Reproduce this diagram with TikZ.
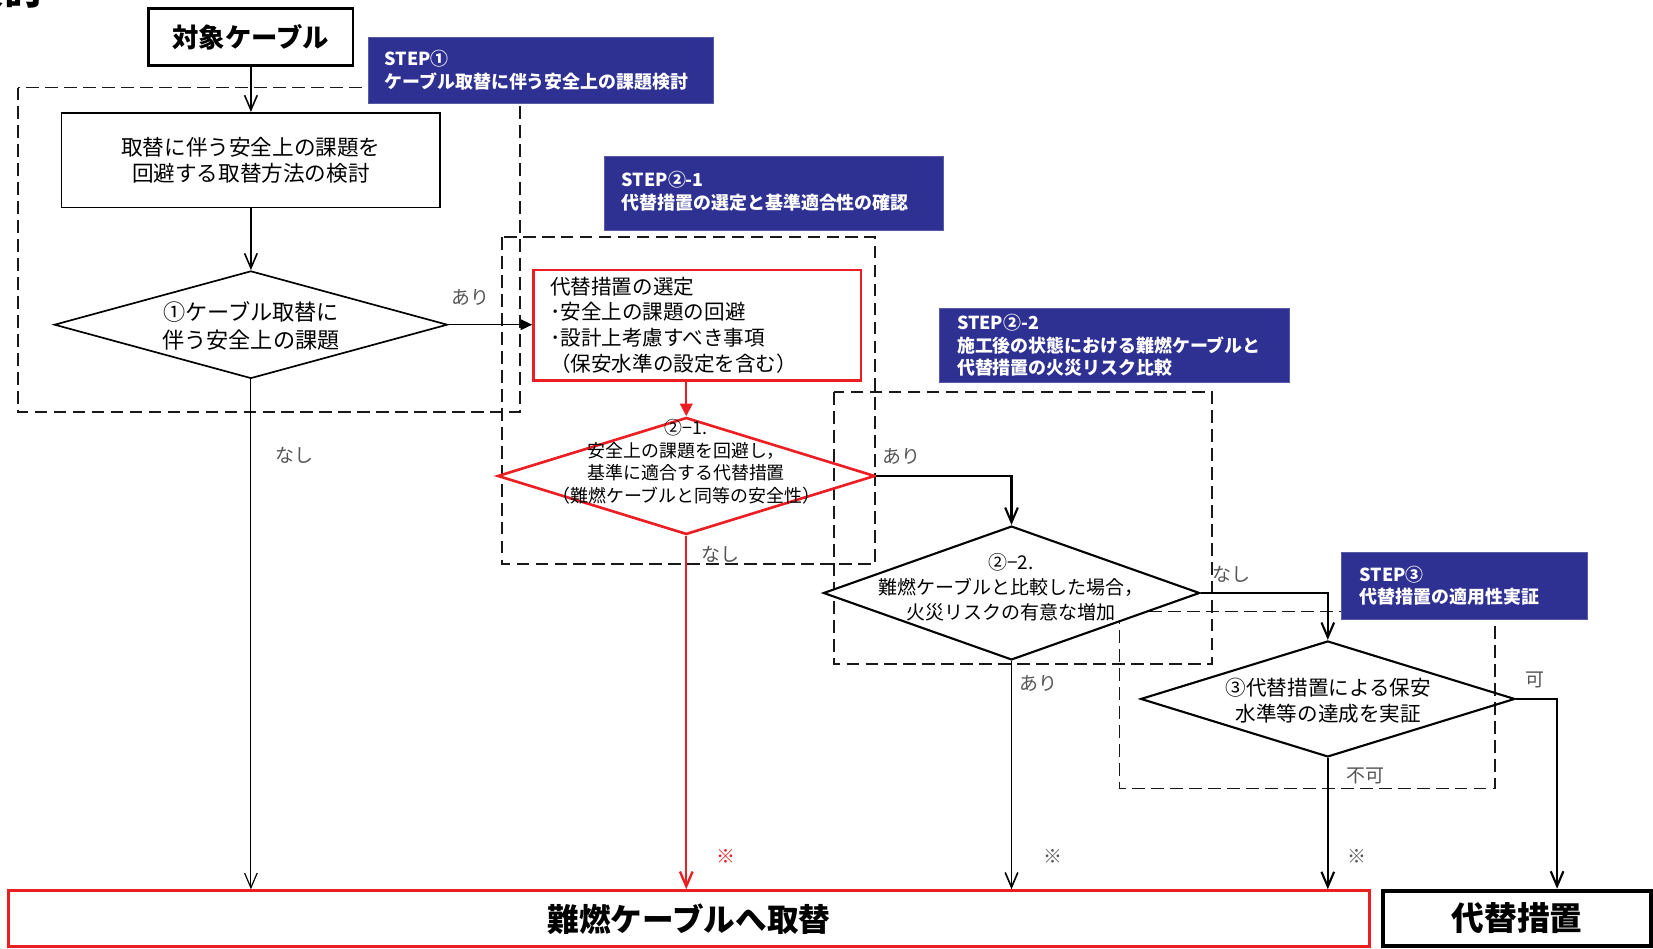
\documentclass[tikz,border=0pt]{standalone}
\usepackage{fontspec}
\setmainfont{Noto Sans CJK JP}
\usetikzlibrary{arrows.meta,shapes.geometric,calc}
\definecolor{stepblue}{RGB}{46,49,146}
\definecolor{myred}{RGB}{235,30,35}
\definecolor{lblgray}{RGB}{85,85,85}
\newcommand{\fsz}[2]{\fontsize{#1}{#2}\selectfont}
\begin{document}
\begin{tikzpicture}[x=1pt,y=-1pt,
  dbox/.style={draw=black!90, line width=1.7pt, dash pattern=on 12pt off 6pt},
  stepbox/.style={fill=stepblue, draw=stepblue!80, line width=0.6pt, inner sep=0pt},
  steptext/.style={text=white, font=\bfseries\fsz{17}{21.5}, align=left, inner sep=0pt, anchor=west},
  plainbox/.style={draw=black, line width=1.5pt, inner sep=0pt, align=center},
  dia/.style={diamond, inner sep=0pt, draw=black, line width=1.6pt},
  diatext/.style={inner sep=0pt, align=center},
  lbl/.style={text=lblgray, font=\fsz{18}{20}, inner sep=0pt},
  note/.style={font=\fsz{18}{19}, inner sep=0pt},
  barb/.style={-{Straight Barb[length=14pt,width=12pt]}},
  tri/.style={-{Triangle[length=11pt,width=10pt]}}
]
\useasboundingbox (0,0) rectangle (1568,900);

% cut-off heading
\node[font=\bfseries\fsz{38}{38}, anchor=base east, inner sep=0pt] (hdr) at (42,4) {検討};

% dashed group frames
\draw[dbox] (17,83) rectangle (493,391);
\draw[dbox] (476,225) rectangle (830,535);
\draw[dbox] (791,372) rectangle (1150,630);
\draw[dbox] (1062,580) rectangle (1418,748);

% STEP labels
\node[stepbox, minimum width=328pt, minimum height=63pt] (s1) at (513,66.5) {};
\node[steptext] (s1t) at ([xshift=16pt]s1.west) {STEP①\\ケーブル取替に伴う安全上の課題検討};
\node[stepbox, minimum width=322pt, minimum height=70pt] (s2) at (734,183) {};
\node[steptext] (s2t) at ([xshift=17pt,yshift=1.5pt]s2.west) {STEP②-1\\代替措置の選定と基準適合性の確認};
\node[stepbox, minimum width=332pt, minimum height=71pt] (s3) at (1057,327.5) {};
\node[steptext] (s3t) at ([xshift=17pt]s3.west) {STEP②-2\\施工後の状態における難燃ケーブルと\\代替措置の火災リスク比較};
\node[stepbox, minimum width=234pt, minimum height=63pt] (s4) at (1389,555.5) {};
\node[steptext] (s4t) at ([xshift=18pt]s4.west) {STEP③\\代替措置の適用性実証};

% boxes
\node[plainbox, line width=2.5pt, minimum width=194pt, minimum height=54pt, font=\bfseries\fsz{25}{28}] (src) at (238,35) {対象ケーブル};
\node[plainbox, minimum width=359pt, minimum height=90pt, font=\fsz{20.5}{25}] (box2) at (238,152) {取替に伴う安全上の課題を\\回避する取替方法の検討};
\node[draw=myred, line width=2.2pt, minimum width=311pt, minimum height=105pt, text width=279pt, inner xsep=16pt, inner ysep=0pt, align=left, font=\fsz{19.5}{24.5}] (sel) at (661.5,308.5) {代替措置の選定\\･安全上の課題の回避\\･設計上考慮すべき事項\\（保安水準の設定を含む）};

% diamonds
\node[dia, minimum width=373pt, minimum height=102pt] (d1) at (238,308) {};
\node[diatext, font=\fsz{21}{26}] (d1t) at (238,309) {①ケーブル取替に\\伴う安全上の課題};
\node[dia, draw=myred, line width=2.5pt, minimum width=358pt, minimum height=111pt] (d21) at (651,451.5) {};
\node[diatext, font=\fsz{17}{21.3}] (d21t) at (651,438) {②−1.\\安全上の課題を回避し，\\基準に適合する代替措置\\（難燃ケーブルと同等の安全性）};
\node[dia, fill=white, line width=2pt, minimum width=357pt, minimum height=127pt] (d22) at (959.5,562.5) {};
\node[diatext, font=\fsz{18}{23.5}] (d22t) at (959,557) {②−2.\\難燃ケーブルと比較した場合，\\火災リスクの有意な増加};
\node[dia, line width=2pt, minimum width=355pt, minimum height=110pt] (d3) at (1259.5,663) {};
\node[diatext, font=\fsz{19.5}{25}] (d3t) at (1260,664.5) {③代替措置による保安\\水準等の達成を実証};

% bottom boxes
\node[draw=myred, line width=3pt, minimum width=1291pt, minimum height=53pt, inner sep=0pt, font=\bfseries\fsz{30}{32}] (repl) at (653.5,871.5) {難燃ケーブルへ取替};
\node[draw=black, line width=4pt, minimum width=254pt, minimum height=52pt, inner sep=0pt, font=\bfseries\fsz{31}{32}] (alt) at (1439,871) {代替措置};

% connectors
\draw[line width=1.5pt, barb] (src.south) -- (src.south |- box2.north);
\draw[line width=1.5pt, barb] (box2.south) -- (d1.north);
\draw[line width=1.5pt, tri] (d1.east) -- (d1.east -| sel.west);
\draw[myred, line width=2pt, -{Triangle[length=12pt,width=12pt]}] (d21.north |- sel.south) -- (d21.north);
\draw[line width=1.1pt, barb] (d1.south) -- (d1.south |- repl.north);
\draw[myred, line width=2.2pt, barb] (d21.south) -- (d21.south |- repl.north);
\draw[line width=2pt, barb] (d21.east) -| (d22.north);
\draw[line width=1.5pt, barb] (d22.south) -- (d22.south |- repl.north);
\draw[line width=2pt, barb] (d22.east) -| (d3.north);
\draw[line width=2pt, barb] (d3.south) -- (d3.south |- repl.north);
\coordinate (altin) at (1477,845);
\draw[line width=2pt, barb] (d3.east) -| (altin |- alt.north);

% branch labels
\node[lbl] (l1) at (446,282) {あり};
\node[lbl] (l2) at (279,432) {なし};
\node[lbl] (l3) at (683,526) {なし};
\node[lbl] (l4) at (855,433) {あり};
\node[lbl] (l5) at (1168,545) {なし};
\node[lbl] (l6) at (985,648) {あり};
\node[lbl] (l7) at (1456,645) {可};
\node[lbl] (l8) at (1295,736) {不可};
\node[note, text=myred] (n1) at (689,812) {※};
\node[note, text=lblgray] (n2) at (999,812) {※};
\node[note, text=lblgray] (n3) at (1287,812) {※};
\end{tikzpicture}
\end{document}
